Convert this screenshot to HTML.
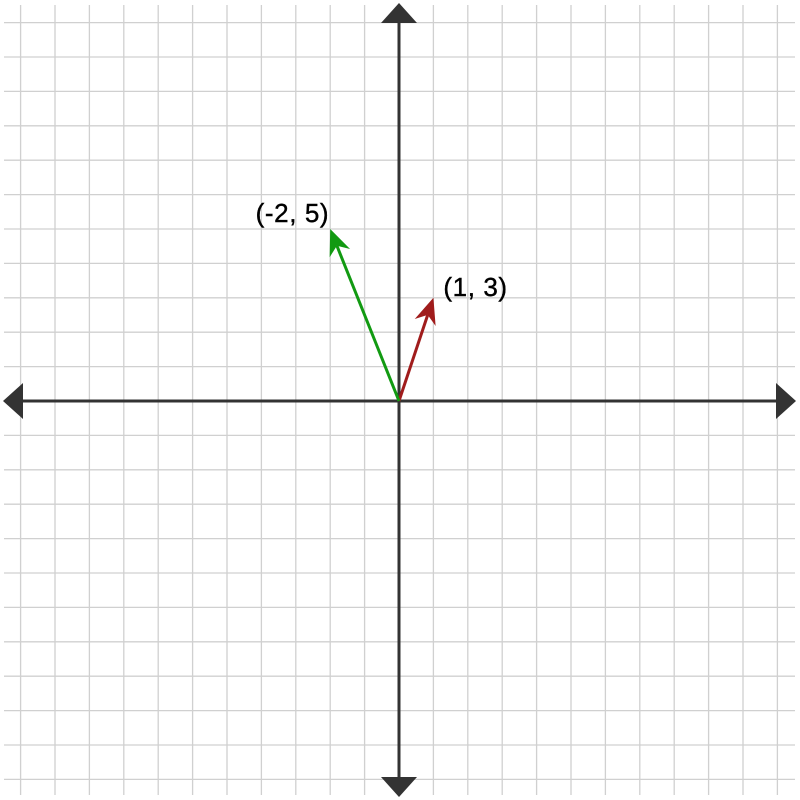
<!DOCTYPE html>
<html><head><meta charset="utf-8"><style>html,body{margin:0;padding:0;background:#fff}svg{display:block}</style></head>
<body>
<svg id="chart" width="800" height="800" xmlns="http://www.w3.org/2000/svg">
<g id="grid"></g>
<g id="axes"></g>
<g id="vecs"></g>
</svg>
<script>
const vectorLabels = ["(1, 3)", "(-2, 5)"];
const vectorX = [1, -2];
const vectorY = [3, 5];
const vectorColors = ["#a01c1c", "#129a12"];
const gridRange = [-11, 11];

const ox = 399, oy = 401, u = 34.4;
const sx = v => ox + v * u;
const sy = v => oy - v * u;
const NS = "http://www.w3.org/2000/svg";
function mk(tag, attrs, parent) {
  const e = document.createElementNS(NS, tag);
  for (const k in attrs) e.setAttribute(k, attrs[k]);
  parent.appendChild(e); return e;
}
const grid = document.getElementById('grid');
for (let i = gridRange[0]; i <= gridRange[1]; i++) {
  const v = mk('line', {x1: sx(i), x2: sx(i), y1: 5, y2: 795, stroke: '#d0d0d0', 'stroke-width': 1.3}, grid);
  
  
  const h = mk('line', {x1: 4, x2: 795, y1: sy(i), y2: sy(i), stroke: '#d0d0d0', 'stroke-width': 1.3}, grid);
  
  
}
const axes = document.getElementById('axes');
const xa = mk('line', {x1: 20, x2: 778, y1: oy, y2: oy, stroke: '#333', 'stroke-width': 3}, axes);


const ya = mk('line', {x1: ox, x2: ox, y1: 20, y2: 780, stroke: '#333', 'stroke-width': 3}, axes);


const heads = [
  `${ox},3 ${ox-18},23 ${ox+18},23`,
  `${ox},797 ${ox-18},777 ${ox+18},777`,
  `3,${oy} 23,${oy-18} 23,${oy+18}`,
  `796,${oy} 776,${oy-18} 776,${oy+18}`
];
heads.forEach(p => {
  const a = mk('polygon', {points: p, fill: '#333'}, axes);
  
  
});
const vecs = document.getElementById('vecs');
vectorX.forEach((vx, i) => {
  const ex = sx(vx), ey = sy(vectorY[i]);
  const dx = ex - ox, dy = ey - oy, L = Math.hypot(dx, dy);
  const ux = dx / L, uy = dy / L, px = -uy, py = ux;
  const hl = 26, hw = 11, notch = 18;
  const bx = ex - ux * hl, by = ey - uy * hl;
  const nx = ex - ux * notch, ny = ey - uy * notch;
  const ln = mk('line', {x1: ox, y1: oy, x2: nx, y2: ny, stroke: vectorColors[i], 'stroke-width': 3}, vecs);
  
  
  const hd = mk('polygon', {points: `${ex},${ey} ${bx+px*hw},${by+py*hw} ${nx},${ny} ${bx-px*hw},${by-py*hw}`, fill: vectorColors[i]}, vecs);
  
  
  const right = vx >= 0;
  const t = mk('text', {x: right ? ex + 10 : ex - 1, y: right ? ey - 2 : ey - 7, 'text-anchor': right ? 'start' : 'end',
    'font-family': 'Liberation Sans, sans-serif', 'font-size': 26, 'letter-spacing': 0.6, 'stroke': '#000', 'stroke-width': 0.4, fill: '#000'}, vecs);
  t.textContent = vectorLabels[i];
  
  
});
</script>
</body></html>
